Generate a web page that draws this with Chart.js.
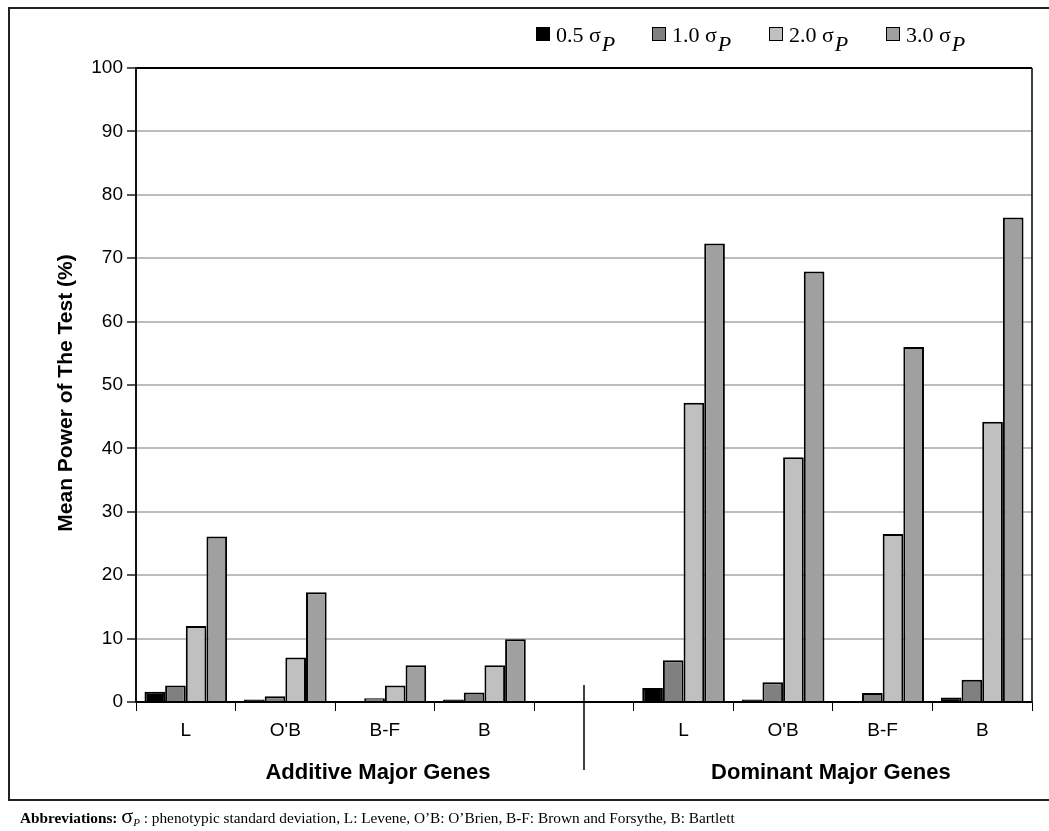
<!DOCTYPE html>
<html>
<head>
<meta charset="utf-8">
<script src="https://cdn.jsdelivr.net/npm/chart.js@4.4.0/dist/chart.umd.min.js"></script>
<style>
body { margin: 0; background: #fff; width: 1049px; height: 831px; overflow: hidden; position: relative; }
#frame { position: absolute; left: 8px; top: 7px; width: 1060px; height: 794px; border: 2px solid #222; border-right: none; box-sizing: border-box; }
#wrap { position: absolute; left: 0; top: 0; width: 1049px; height: 831px; }
#legend { position: absolute; top: 22px; left: 0; font-family: "Liberation Serif", "Times New Roman", serif; font-size: 22px; color: #000; }
.item { position: absolute; white-space: nowrap; }
.box { display: inline-block; width: 12px; height: 12px; border: 1px solid #000; margin-right: 6px; vertical-align: 1px; }
.sub { font-style: italic; position: relative; top: 9px; margin-left: 1px; }
#abbr { position: absolute; left: 20px; top: 803px; font-family: "Liberation Serif", "Times New Roman", serif; font-size: 15.3px; white-space: nowrap; }
#abbr .sig { font-size: 22px; }
#abbr .p { font-style: italic; font-size: 11px; position: relative; top: 3px; }
</style>
</head>
<body>
<div id="frame"></div>
<div id="wrap"><canvas id="powerChart" width="1049" height="831"></canvas></div>
<div id="legend"></div>
<div id="abbr"><b>Abbreviations:</b> <span class="sig">σ</span><span class="p">P</span> : phenotypic standard deviation, L: Levene, O’B: O’Brien, B-F: Brown and Forsythe, B: Bartlett</div>
<script>
// kategori: 4 uji untuk gen aditif, slot kosong, 4 uji untuk gen dominan
const categories = ['L', "O'B", 'B-F', 'B', '', 'L', "O'B", 'B-F', 'B'];
const seriesNames = ['0.5', '1.0', '2.0', '3.0'];
const seriesColors = ['#000000', '#808080', '#c0c0c0', '#a0a0a0'];

const sd05 = [1.6, 0.4, 0.05, 0.4, null, 2.2, 0.4, 0.05, 0.7];
const sd10 = [2.6, 0.9, 0.6, 1.5, null, 6.6, 3.1, 1.4, 3.5];
const sd20 = [12.0, 7.0, 2.6, 5.8, null, 47.2, 38.6, 26.5, 44.2];
const sd30 = [26.1, 17.3, 5.8, 9.9, null, 72.3, 67.9, 56.0, 76.4];

const yTicks = [0, 10, 20, 30, 40, 50, 60, 70, 80, 90, 100];
const groupLabels = ['Additive Major Genes', 'Dominant Major Genes'];
const yTitle = 'Mean Power of The Test (%)';

const sansFont = '"Liberation Sans", Arial, sans-serif';

// legenda HTML (dengan subskrip P)
const legendEl = document.getElementById('legend');
const legendX = [536, 652, 769, 886];
seriesNames.forEach((name, i) => {
    const el = document.createElement('div');
    el.className = 'item';
    el.style.left = legendX[i] + 'px';
    el.innerHTML = `<span class="box" style="background:${seriesColors[i]}"></span>${name} σ<span class="sub">P</span>`;
    legendEl.appendChild(el);
});

// teks tambahan: judul sumbu Y, label grup, garis pemisah, bingkai kanan
const extras = {
    id: 'extras',
    afterDraw(chart) {
        const { ctx, chartArea: a, scales: { x, y } } = chart;
        ctx.save();
        ctx.strokeStyle = '#000';
        ctx.lineWidth = 1.5;
        ctx.beginPath();
        ctx.moveTo(a.right, a.top);
        ctx.lineTo(a.right, a.bottom);
        ctx.stroke();

        const dx = x.getPixelForValue(4);
        ctx.beginPath();
        ctx.moveTo(dx, y.getPixelForValue(2.7));
        ctx.lineTo(dx, a.bottom + 68);
        ctx.stroke();

        ctx.fillStyle = '#000';
        ctx.font = 'bold 22px ' + sansFont;
        ctx.textAlign = 'center';
        ctx.textBaseline = 'middle';
        ctx.fillText(groupLabels[0], x.getPixelForValue(1.93), a.bottom + 71);
        ctx.fillText(groupLabels[1], x.getPixelForValue(6.48), a.bottom + 71);

        ctx.translate(66, (a.top + a.bottom) / 2 + 8);
        ctx.rotate(-Math.PI / 2);
        ctx.font = 'bold 21px ' + sansFont;
        ctx.fillText(yTitle, 0, 0);
        ctx.restore();
    }
};

const ctx = document.getElementById('powerChart').getContext('2d');
new Chart(ctx, {
    type: 'bar',
    data: {
        labels: categories,
        datasets: [sd05, sd10, sd20, sd30].map((d, i) => ({
            label: seriesNames[i],
            data: d,
            backgroundColor: seriesColors[i],
            borderColor: '#000',
            borderWidth: 2,
            categoryPercentage: 0.83,
            barPercentage: 1.0
        }))
    },
    options: {
        responsive: false,
        animation: false,
        layout: { padding: { left: 0, top: 68, right: 17, bottom: 0 } },
        plugins: { legend: { display: false }, tooltip: { enabled: false } },
        scales: {
            x: {
                afterFit: (s) => { s.height = 129; },
                grid: { offset: true, drawOnChartArea: false, color: '#000', tickLength: 9 },
                border: { color: '#000', width: 1.5 },
                ticks: { color: '#000', font: { family: sansFont, size: 19 }, padding: 8, maxRotation: 0 }
            },
            y: {
                min: 0, max: 100,
                afterFit: (s) => { s.width = 136; },
                afterBuildTicks: (s) => { s.ticks = yTicks.map(v => ({ value: v })); },
                grid: {
                    color: (c) => (c.tick && (c.tick.value === 100 || c.tick.value === 0)) ? '#000' : '#bdbdbd',
                    lineWidth: 2,
                    tickColor: '#555',
                    tickLength: 9
                },
                border: { color: '#111', width: 2 },
                ticks: { color: '#000', font: { family: sansFont, size: 19 }, padding: 4 }
            }
        }
    },
    plugins: [extras]
});
</script>
</body>
</html>
